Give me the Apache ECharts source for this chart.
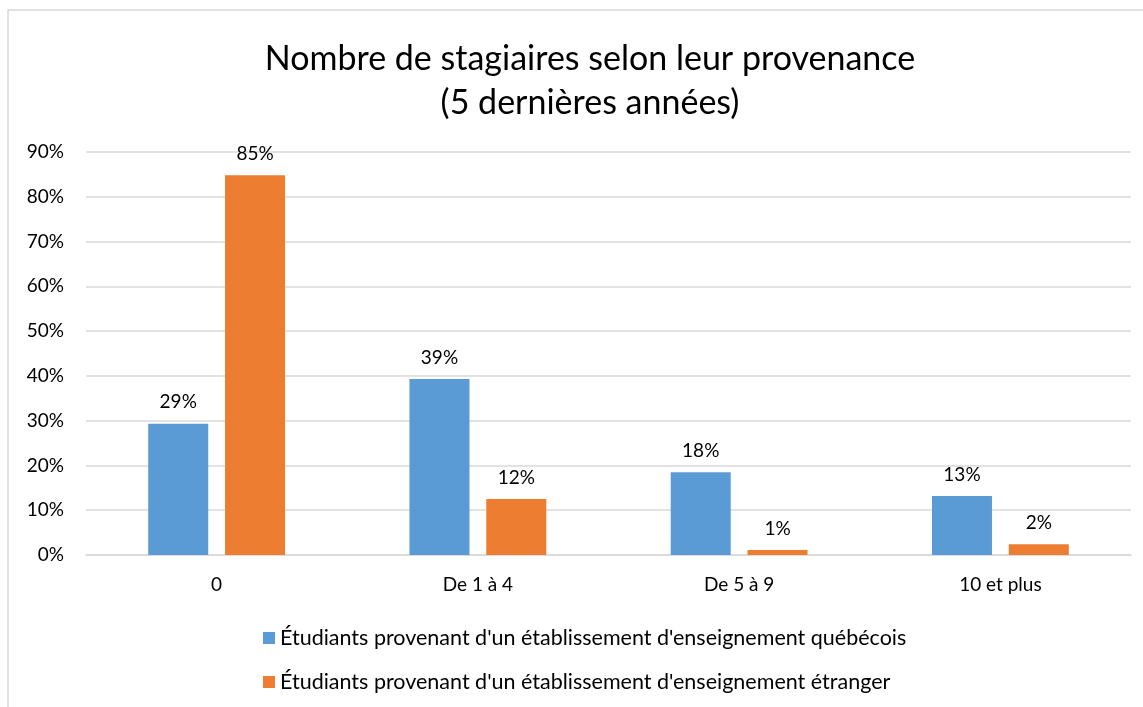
<!DOCTYPE html>
<head>
    <meta charset="utf-8">
    <title>ECharts</title>
</head>
<body style="margin:0">
   <div id="main" style="width:1143px;height:707px"></div>
     <script src="https://cdn.jsdelivr.net/npm/echarts@6/dist/echarts.min.js"></script>
      <script type="text/javascript">

    var categories = ['0', 'De 1 à 4', 'De 5 à 9', '10 et plus'];
    var seriesNames = [
        "Étudiants provenant d'un établissement d'enseignement québécois",
        "Étudiants provenant d'un établissement d'enseignement étranger"
    ];
    var quebecois = [29.3, 39.3, 18.5, 13.2];
    var etranger = [84.8, 12.5, 1.1, 2.4];
    var labelsQc = ['29%', '39%', '18%', '13%'];
    var labelsEt = ['85%', '12%', '1%', '2%'];

    var myChart = echarts.init(document.getElementById("main"));
    var font = 'Lato, "Open Sans", sans-serif';

    function makeData(values, labels) {
        return values.map(function (v, i) {
            return { value: v, label: { formatter: labels[i] } };
        });
    }

    option = {
        backgroundColor: '#fff',
        textStyle: { fontFamily: font },
        graphic: [{
            type: 'rect',
            shape: { x: 8, y: 10, width: 1200, height: 800 },
            style: { fill: 'none', stroke: '#d9d9d9', lineWidth: 1.5 },
            silent: true
        }],
        title: {
            text: 'Nombre de stagiaires selon leur provenance\n(5 dernières années)',
            left: 585,
            textAlign: 'center',
            top: 32,
            textStyle: {
                fontFamily: font,
                fontSize: 34,
                fontWeight: 'normal',
                color: '#000',
                lineHeight: 44
            }
        },
        legend: {
            orient: 'vertical',
            left: 258,
            top: 622,
            itemWidth: 12,
            itemHeight: 12,
            itemGap: 22,
            icon: 'rect',
            textStyle: { fontFamily: font, fontSize: 21.5, color: '#000' },
            data: seriesNames
        },
        grid: { left: 86, right: 12, top: 152, bottom: 152, containLabel: false },
        xAxis: {
            type: 'category',
            data: categories,
            axisTick: { show: false },
            axisLine: { lineStyle: { color: '#d9d9d9', width: 1.5 } },
            axisLabel: { fontFamily: font, fontSize: 19, color: '#000', margin: 20 }
        },
        yAxis: {
            type: 'value',
            min: 0,
            max: 90,
            interval: 10,
            axisLabel: { formatter: '{value}%', fontFamily: font, fontSize: 19, color: '#000', margin: 22 },
            splitLine: { lineStyle: { color: '#d9d9d9', width: 1.5 } },
            axisLine: { show: false },
            axisTick: { show: false }
        },
        series: [
            {
                name: seriesNames[0],
                type: 'bar',
                barWidth: 60,
                barGap: '28%',
                itemStyle: { color: '#5B9BD5' },
                label: { show: true, position: 'top', distance: 12, fontFamily: font, fontSize: 19, color: '#000' },
                data: makeData(quebecois, labelsQc)
            },
            {
                name: seriesNames[1],
                type: 'bar',
                barWidth: 60,
                itemStyle: { color: '#ED7D31' },
                label: { show: true, position: 'top', distance: 12, fontFamily: font, fontSize: 19, color: '#000' },
                data: makeData(etranger, labelsEt)
            }
        ]
    };
    myChart.setOption(option);
</script>
</body>
